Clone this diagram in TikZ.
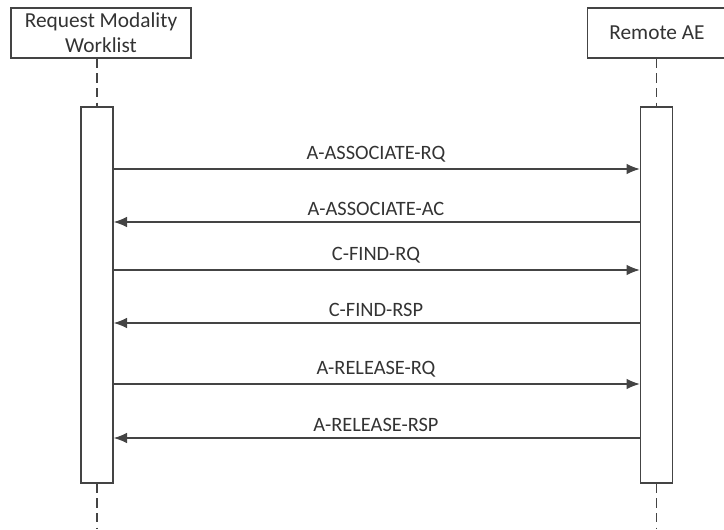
\documentclass[tikz,border=0pt]{standalone}
\usepackage{fontspec}
\setmainfont{Carlito}
\usetikzlibrary{arrows.meta}
\definecolor{linegray}{HTML}{444444}
\definecolor{textgray}{HTML}{333333}
\tikzset{
  actor/.style={draw=linegray, line width=1pt, fill=white, align=center,
    text=textgray, font=\fontsize{16}{19}\selectfont, inner sep=0pt},
  bar/.style={draw=linegray, line width=1pt, fill=white, minimum width=24pt,
    minimum height=282pt, inner sep=0pt},
  lifeline/.style={draw=linegray, line width=0.9pt, dash pattern=on 7pt off 4pt},
  msg/.style={draw=linegray, line width=1.1pt, -{Latex[length=10pt,width=8pt]}},
  msglabel/.style={text=textgray, font=\fontsize{15.3}{17}\selectfont}
}
\begin{document}
\begin{tikzpicture}[x=0.75pt,y=-0.75pt]
\useasboundingbox (0,0) rectangle (724,529);
\clip (0,0) rectangle (724,529);

% participants
\node[actor, minimum width=135pt, minimum height=37.5pt] (rmw) at (101,33) {Request Modality\\Worklist};
\node[actor, minimum width=104pt, minimum height=37.5pt] (rae) at (657,33) {Remote AE};

% activation bars
\node[bar] (barL) at (97,295) {};
\node[bar] (barR) at (656.5,295) {};
\coordinate (endL) at (97,529);
\coordinate (endR) at (656.5,529);

\draw[lifeline] (rmw.south -| barL) -- (barL.north);
\draw[lifeline] (barL.south) -- (endL);
\draw[lifeline] (rae.south -| barR) -- (barR.north);
\draw[lifeline] (barR.south) -- (endR);

% messages
\foreach \y/\dir/\txt in {169/r/A-ASSOCIATE-RQ, 222/l/A-ASSOCIATE-AC,
    270/r/C-FIND-RQ, 323/l/C-FIND-RSP, 384/r/A-RELEASE-RQ, 438/l/A-RELEASE-RSP}{
  \coordinate (m) at (376,\y);
  \if r\dir
    \draw[msg] (barL.east |- m) -- (barR.west |- m);
  \else
    \draw[msg] (barR.west |- m) -- (barL.east |- m);
  \fi
  \node[msglabel, anchor=south] at ([yshift=1.5pt]m) {\txt};
}
\end{tikzpicture}
\end{document}
